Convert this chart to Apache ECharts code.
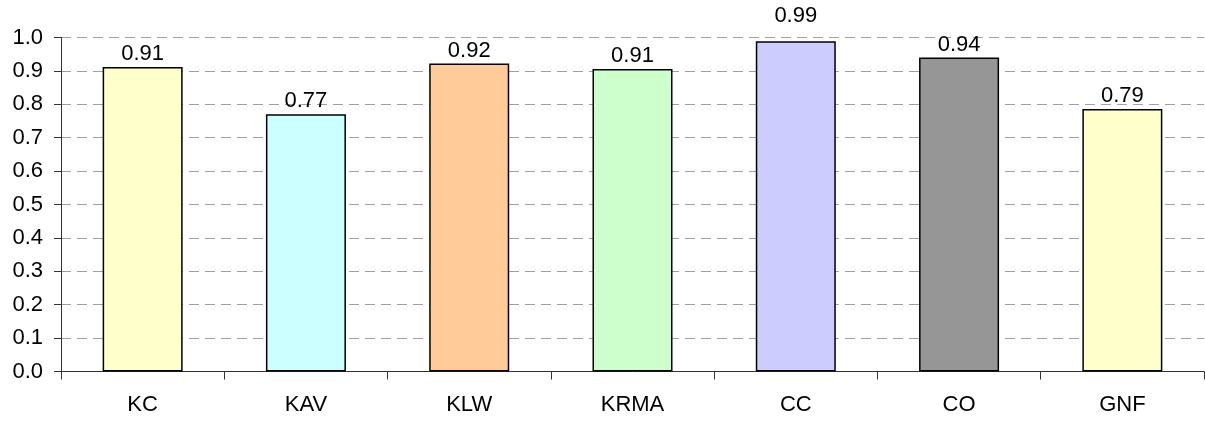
<!DOCTYPE html>
<html>
<head>
<meta charset="utf-8">
<script src="https://cdn.jsdelivr.net/npm/echarts@6/dist/echarts.min.js"></script>
<style>
html,body{margin:0;padding:0;background:#fff;}
#c{width:1205px;height:424px;}
</style>
</head>
<body>
<div id="c"></div>
<script>
const categories = ['KC', 'KAV', 'KLW', 'KRMA', 'CC', 'CO', 'GNF'];
const values = [0.912, 0.770, 0.922, 0.906, 0.989, 0.940, 0.786];
const colors = ['#FFFFCC', '#CCFFFF', '#FFCC99', '#CCFFCC', '#CCCCFF', '#969696', '#FFFFCC'];
const yTicks = [0, 0.1, 0.2, 0.3, 0.4, 0.5, 0.6, 0.7, 0.8, 0.9, 1.0];

const chart = echarts.init(document.getElementById('c'), null, {renderer: 'canvas'});
const font = '"Liberation Sans", Arial, sans-serif';
chart.setOption({
  animation: false,
  backgroundColor: '#fff',
  grid: {left: 61, right: 1, top: 37.5, bottom: 52.5, containLabel: false},
  xAxis: {
    type: 'category',
    data: categories,
    axisLine: {show: true, lineStyle: {color: '#333', width: 1}},
    axisTick: {show: true, alignWithLabel: false, length: 8, lineStyle: {color: '#333'}},
    axisLabel: {color: '#000', fontSize: 22, fontFamily: font, margin: 22},
    splitLine: {show: false}
  },
  yAxis: {
    type: 'value',
    min: yTicks[0],
    max: yTicks[yTicks.length - 1],
    interval: 0.1,
    axisLine: {show: true, lineStyle: {color: '#333', width: 1}},
    axisTick: {show: true, length: 7, lineStyle: {color: '#333'}},
    axisLabel: {color: '#000', fontSize: 22, fontFamily: font, margin: 18,
      formatter: v => v.toFixed(1)},
    splitLine: {show: true, lineStyle: {color: '#a0a0a0', type: [10, 6], width: 1}}
  },
  series: [{
    type: 'bar',
    data: values.map((v, i) => ({
      value: v,
      itemStyle: {color: colors[i]},
      label: categories[i] === 'CC' ? {distance: 14} : undefined
    })),
    barWidth: 80,
    itemStyle: {borderColor: '#000', borderWidth: 1.5},
    label: {show: true, position: 'top', distance: 2, color: '#000', fontSize: 22, fontFamily: font,
      formatter: p => p.value.toFixed(2)}
  }]
});
</script>
</body>
</html>
